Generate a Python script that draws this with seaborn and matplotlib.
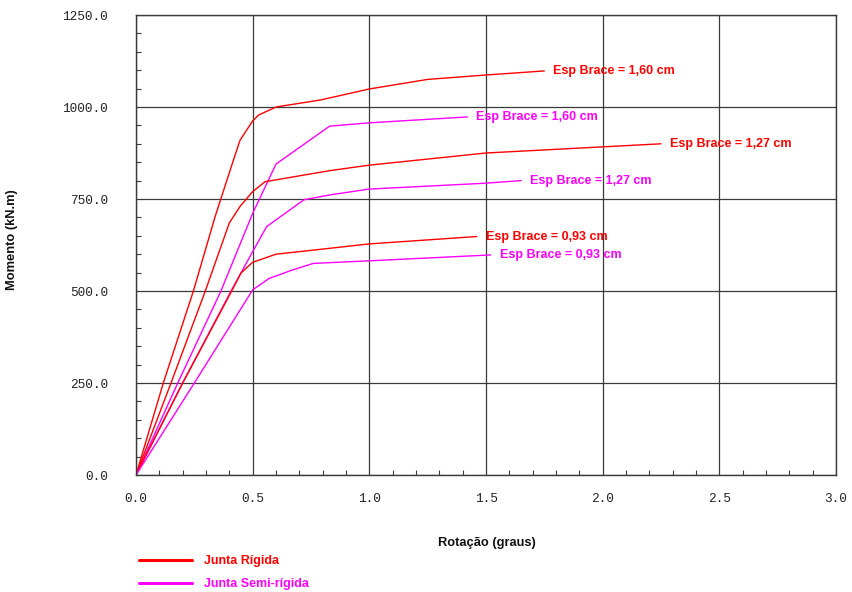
import matplotlib
matplotlib.use("Agg")
import matplotlib.pyplot as plt
from matplotlib.ticker import MultipleLocator, FormatStrFormatter
from matplotlib.lines import Line2D
from matplotlib import font_manager
import pandas as pd
import seaborn as sns

# Moment-rotation curves (rotation in degrees, moment in kN.m)
rig_160_x = [0, 0.117, 0.246, 0.339, 0.41, 0.446, 0.50, 0.525, 0.60, 0.79, 1.0, 1.25, 1.5, 1.75]
rig_160_y = [0, 250, 500, 702, 841, 910, 962, 978, 1000, 1019, 1049, 1075, 1087, 1098]

rig_127_x = [0, 0.15, 0.297, 0.40, 0.446, 0.50, 0.553, 0.83, 1.0, 1.5, 2.25]
rig_127_y = [0, 250, 500, 685, 730, 770, 797, 827, 842, 875, 900]

rig_093_x = [0, 0.2, 0.41, 0.45, 0.50, 0.60, 0.83, 1.0, 1.46]
rig_093_y = [0, 250, 500, 549, 578, 600, 616, 628, 648]

semi_160_x = [0, 0.179, 0.364, 0.50, 0.60, 0.83, 1.0, 1.42]
semi_160_y = [0, 250, 500, 711, 845, 948, 957, 973]

semi_127_x = [0, 0.2, 0.41, 0.50, 0.56, 0.72, 0.83, 1.0, 1.5, 1.65]
semi_127_y = [0, 250, 503, 607, 675, 748, 761, 777, 793, 800]

semi_093_x = [0, 0.25, 0.50, 0.57, 0.67, 0.76, 0.83, 1.0, 1.52]
semi_093_y = [0, 250, 503, 534, 557, 575, 577, 582, 598]

series_labels = ["Esp Brace = 1,60 cm", "Esp Brace = 1,27 cm", "Esp Brace = 0,93 cm"]
legend_labels = ["Junta Rígida", "Junta Semi-rígida"]

RED = "#FF0000"
MAGENTA = "#FF00FF"
GRID = "#3a3a3a"

sns.set_theme(style="white")
plt.rcParams["font.family"] = ["Liberation Sans", "DejaVu Sans"]

available = {f.name for f in font_manager.fontManager.ttflist}
narrow = "Liberation Sans Narrow" if "Liberation Sans Narrow" in available else "Liberation Sans"

fig = plt.figure(figsize=(8.52, 5.92), dpi=100)
ax = fig.add_axes([136 / 852, 1 - 475 / 592, 700 / 852, 460 / 592])

curves = [
    (rig_160_x, rig_160_y, RED, series_labels[0]),
    (semi_160_x, semi_160_y, MAGENTA, series_labels[0]),
    (rig_127_x, rig_127_y, RED, series_labels[1]),
    (semi_127_x, semi_127_y, MAGENTA, series_labels[1]),
    (rig_093_x, rig_093_y, RED, series_labels[2]),
    (semi_093_x, semi_093_y, MAGENTA, series_labels[2]),
]

for xs, ys, color, lab in curves:
    df = pd.DataFrame({"rot": xs, "mom": ys})
    sns.lineplot(data=df, x="rot", y="mom", ax=ax, color=color, lw=1.0,
                 sort=False, estimator=None, legend=False)
    ax.annotate(lab, xy=(xs[-1], ys[-1]), xytext=(9, 0), textcoords="offset pixels",
                ha="left", va="center", color=color, fontsize=9, fontweight="bold")

ax.set_xlim(0, 3.0)
ax.set_ylim(0, 1250)
ax.xaxis.set_major_locator(MultipleLocator(0.5))
ax.xaxis.set_minor_locator(MultipleLocator(0.1))
ax.yaxis.set_major_locator(MultipleLocator(250))
ax.yaxis.set_minor_locator(MultipleLocator(50))
ax.xaxis.set_major_formatter(FormatStrFormatter("%.1f"))
ax.yaxis.set_major_formatter(FormatStrFormatter("%.1f"))

ax.grid(True, which="major", color=GRID, lw=0.9)
for sp in ax.spines.values():
    sp.set_color(GRID)
    sp.set_linewidth(1.0)
    sp.set_visible(True)

ax.tick_params(which="both", direction="in", color=GRID, left=True, bottom=True,
               right=False, top=False)
ax.tick_params(which="major", length=0, width=0.8)
ax.tick_params(which="minor", length=3.5, width=0.8)
ax.tick_params(axis="y", which="major", pad=20)
ax.tick_params(axis="x", which="major", pad=13)
for t in ax.get_xticklabels() + ax.get_yticklabels():
    t.set_fontfamily("Liberation Mono")
    t.set_fontsize(9.2)
    t.set_color("#222222")

ax.set_xlabel("Rotação (graus)", fontsize=9.3, fontweight="bold", color="#111111")
ax.set_ylabel("Momento (kN.m)", fontsize=9.3, fontweight="bold", color="#111111")
ax.xaxis.set_label_coords((487 - 136) / 700, (475 - 537) / 460)
ax.yaxis.set_label_coords(-(136 - 18) / 700, (475 - 240) / 460)

handles = [Line2D([], [], color=RED, lw=2.2), Line2D([], [], color=MAGENTA, lw=2.2)]
leg = fig.legend(handles, legend_labels, loc="upper left",
                 bbox_to_anchor=(128 / 852, 1 - 544 / 592), frameon=False,
                 handlelength=4.2, handletextpad=1.0, labelspacing=0.85,
                 prop={"family": narrow, "weight": "bold", "size": 9})
for txt, c in zip(leg.get_texts(), [RED, MAGENTA]):
    txt.set_color(c)

fig.savefig("out.png", dpi=100, facecolor="white")
